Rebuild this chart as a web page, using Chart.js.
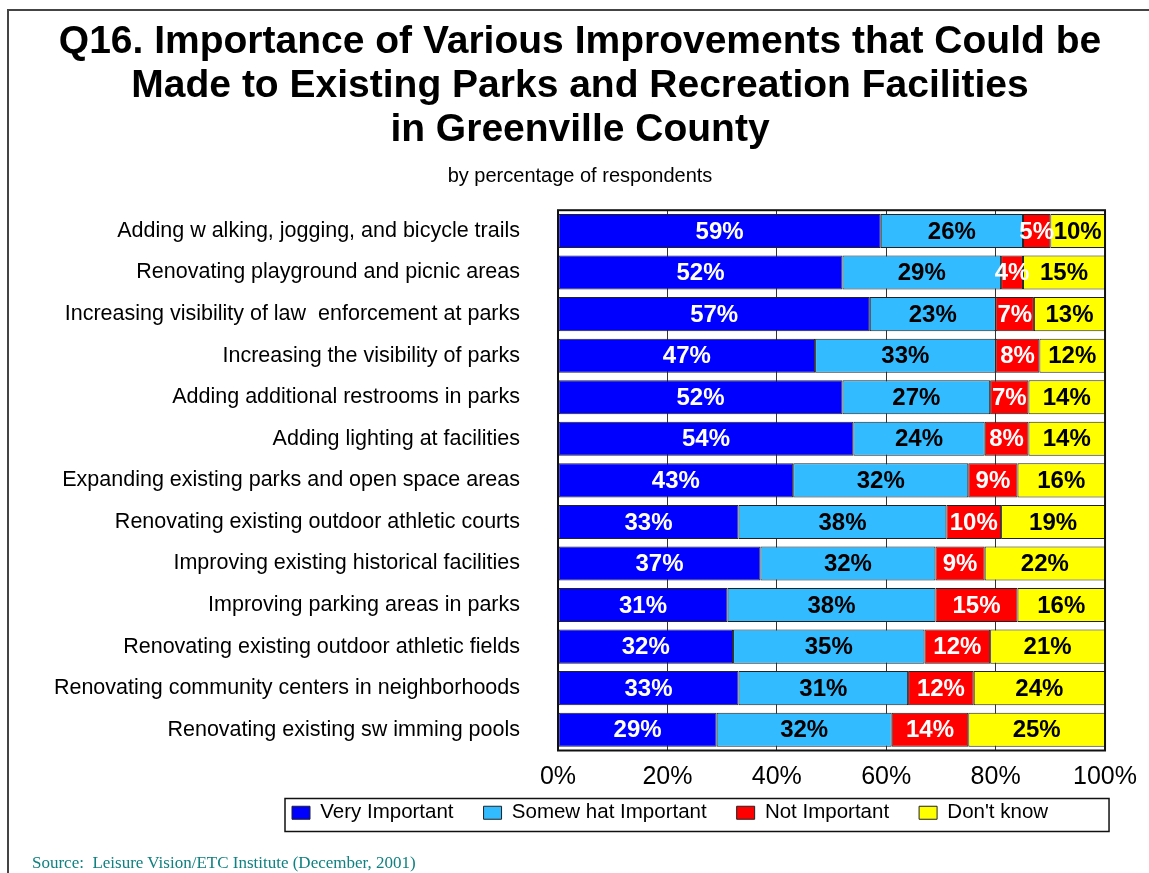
<!DOCTYPE html>
<html>
<head>
<meta charset="utf-8">
<title>Q16 Importance of Improvements</title>
<script src="https://cdn.jsdelivr.net/npm/chart.js@4/dist/chart.umd.min.js"></script>
<style>
  html, body { margin: 0; padding: 0; background: #fff; overflow: hidden; }
  #wrap { position: relative; width: 1149px; height: 873px; }
  #frame { position: absolute; left: 7px; top: 9px; width: 1300px; height: 1000px;
           border-left: 2px solid #444; border-top: 2px solid #444; }
  #chart { position: absolute; left: 0; top: 0; }
  #source { position: absolute; left: 32px; top: 853px; font-family: "Liberation Serif", "Times New Roman", serif;
            font-size: 17px; line-height: 20px; color: #108080; white-space: pre; }
</style>
</head>
<body>
<div id="wrap">
  <div id="frame"></div>
  <canvas id="chart" width="1149" height="873"></canvas>
  <div id="source">Source:  Leisure Vision/ETC Institute (December, 2001)</div>
</div>
<script>
const categories = [
    "Adding w alking, jogging, and bicycle trails",
    "Renovating playground and picnic areas",
    "Increasing visibility of law  enforcement at parks",
    "Increasing the visibility of parks",
    "Adding additional restrooms in parks",
    "Adding lighting at facilities",
    "Expanding existing parks and open space areas",
    "Renovating existing outdoor athletic courts",
    "Improving existing historical facilities",
    "Improving parking areas in parks",
    "Renovating existing outdoor athletic fields",
    "Renovating community centers in neighborhoods",
    "Renovating existing sw imming pools"
];

const veryImportant     = [59, 52, 57, 47, 52, 54, 43, 33, 37, 31, 32, 33, 29];
const somewhatImportant = [26, 29, 23, 33, 27, 24, 32, 38, 32, 38, 35, 31, 32];
const notImportant      = [5, 4, 7, 8, 7, 8, 9, 10, 9, 15, 12, 12, 14];
const dontKnow          = [10, 15, 13, 12, 14, 14, 16, 19, 22, 16, 21, 24, 25];

const seriesNames = ["Very Important", "Somew hat Important", "Not Important", "Don't know"];
const xTicks = [0, 20, 40, 60, 80, 100];

Chart.defaults.font.family = "'Liberation Sans', Arial, Helvetica, sans-serif";
Chart.defaults.color = "#000";

// labels drawn in the middle of each segment
const segmentLabels = {
    id: "segmentLabels",
    afterDatasetsDraw(chart) {
        const ctx = chart.ctx;
        ctx.save();
        ctx.font = "bold 24px 'Liberation Sans', Arial, sans-serif";
        ctx.textAlign = "center";
        ctx.textBaseline = "middle";
        chart.data.datasets.forEach((ds, i) => {
            const meta = chart.getDatasetMeta(i);
            meta.data.forEach((bar, j) => {
                const p = bar.getCenterPoint();
                ctx.fillStyle = ds.labelColor;
                ctx.fillText(ds.data[j] + "%", p.x, p.y + 1);
            });
        });
        // plot frame
        const a = chart.chartArea;
        ctx.strokeStyle = "#111";
        ctx.lineWidth = 2;
        ctx.strokeRect(a.left, a.top, a.right - a.left, a.bottom - a.top);
        ctx.restore();
    }
};

// move the legend up and right, and put a box round it
const legendBox = {
    id: "legendBox",
    afterLayout(chart) {
        const lg = chart.legend;
        const h = lg.bottom - lg.top;
        lg.left = 262;
        lg.top = chart.chartArea.bottom + 22;
        lg.bottom = lg.top + h;
    },
    afterDraw(chart) {
        const lg = chart.legend;
        const pad = lg.options.labels.padding;
        const ctx = chart.ctx;
        ctx.save();
        ctx.strokeStyle = "#111";
        ctx.lineWidth = 1.5;
        const x0 = lg.left + pad - 7;
        const x1 = chart.chartArea.right + 4;
        const y0 = lg.top + pad - 4;
        ctx.strokeRect(x0, y0, x1 - x0, 33);
        ctx.restore();
    }
};

const ctx = document.getElementById("chart").getContext("2d");

new Chart(ctx, {
    type: "bar",
    data: {
        labels: categories,
        datasets: [
            { label: seriesNames[0], data: veryImportant, backgroundColor: "#0000FF", labelColor: "#fff" },
            { label: seriesNames[1], data: somewhatImportant, backgroundColor: "#33BBFF", labelColor: "#000" },
            { label: seriesNames[2], data: notImportant, backgroundColor: "#FF0000", labelColor: "#fff" },
            { label: seriesNames[3], data: dontKnow, backgroundColor: "#FFFF00", labelColor: "#000" }
        ].map(d => Object.assign(d, {
            borderColor: "#222",
            borderWidth: 1,
            borderSkipped: false,
            barPercentage: 0.82,
            categoryPercentage: 1.0
        }))
    },
    options: {
        indexAxis: "y",
        responsive: false,
        animation: false,
        layout: { padding: { top: 10, left: 26, right: 15, bottom: 8 } },
        scales: {
            x: {
                stacked: true,
                min: 0,
                max: 100,
                afterBuildTicks: scale => { scale.ticks = xTicks.map(v => ({ value: v })); },
                ticks: {
                    callback: v => v + "%",
                    font: { size: 25 },
                    color: "#000",
                    padding: 12,
                    maxRotation: 0
                },
                grid: { color: "#333", lineWidth: 1, drawTicks: false },
                border: { display: false }
            },
            y: {
                stacked: true,
                afterFit: scale => { scale.width = 532; },
                ticks: { font: { size: 21.5 }, color: "#000", padding: 30 },
                grid: { display: false },
                border: { display: false }
            }
        },
        plugins: {
            title: {
                display: true,
                text: [
                    "Q16. Importance of Various Improvements that Could be",
                    "Made to Existing Parks and Recreation Facilities",
                    "in Greenville County"
                ],
                font: { size: 39, weight: "bold", lineHeight: 1.13 },
                color: "#000",
                padding: { top: 10, bottom: 6 }
            },
            subtitle: {
                display: true,
                text: "by percentage of respondents",
                font: { size: 20 },
                color: "#000",
                padding: { top: 6, bottom: 22 }
            },
            legend: {
                position: "bottom",
                align: "start",
                labels: {
                    boxWidth: 18,
                    boxHeight: 13,
                    padding: 30,
                    font: { size: 20.5 },
                    color: "#000"
                }
            },
            tooltip: { enabled: false }
        }
    },
    plugins: [segmentLabels, legendBox]
});
</script>
</body>
</html>
